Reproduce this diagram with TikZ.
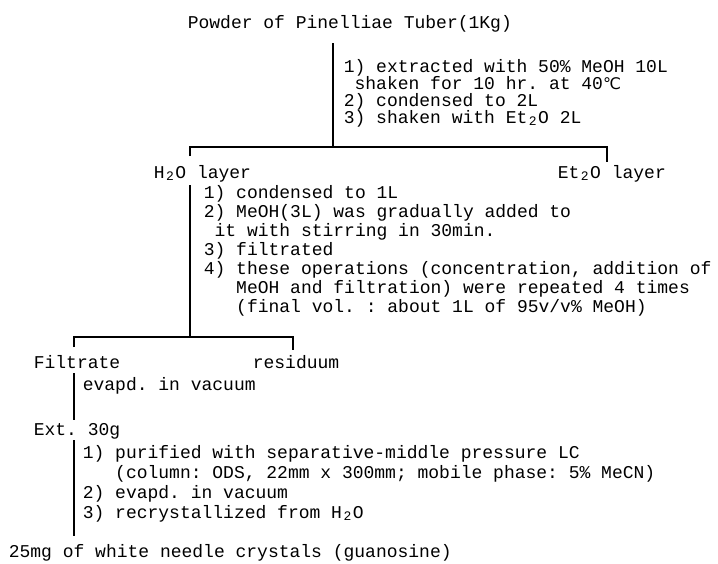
\documentclass[tikz,border=0pt]{standalone}
\usepackage{fontspec}
\setmonofont{Liberation Mono}
\newfontfamily\symfont{DejaVu Sans}
\newcommand{\lowtwo}{\makebox[0.6em]{\raisebox{-0.3ex}{\fontsize{6.5}{6.5}\selectfont 2}}}
\newcommand{\degc}{{\symfont\fontsize{8}{8}\selectfont ℃}}

\begin{document}
\begin{tikzpicture}[x=0.5pt, y=-0.5pt, line width=0.8pt,
    every node/.style={font=\ttfamily\fontsize{9}{9}\selectfont, inner sep=0pt, anchor=base west, align=left}]
    \useasboundingbox (0, 0) rectangle (718, 563);

    % draw starting material
    \node (powder) at (187, 28) {Powder of Pinelliae Tuber(1Kg)};

    % draw extraction (base = last line)
    \draw (333, 43) -- (333, 147);
    \node[font=\ttfamily\fontsize{9}{8.5}\selectfont] (extract) at (343, 123)
        {1) extracted with 50\% MeOH 10L\\
        \ shaken for 10 hr. at 40\degc\\
        2) condensed to 2L\\
        3) shaken with Et\lowtwo O 2L};
    \draw (190, 156) -- (190, 147) -- (607, 147) -- (607, 162);

    % draw layers
    \node (water) at (153, 178) {H\lowtwo O layer};
    \node (ether) at (557, 178) {Et\lowtwo O layer};

    \draw (190, 185) -- (190, 337);
    \node[font=\ttfamily\fontsize{9}{9.5}\selectfont] (conc) at (203, 312)
        {1) condensed to 1L\\
        2) MeOH(3L) was gradually added to\\
        \ it with stirring in 30min.\\
        3) filtrated\\
        4) these operations (concentration, addition of\\
        \ \ \ MeOH and filtration) were repeated 4 times\\
        \ \ \ (final vol. : about 1L of 95v/v\% MeOH)};
    \draw (74, 347) -- (74, 337) -- (293, 337) -- (293, 350);

    % draw filtrate and residue
    \node (filtrate) at (33, 368) {Filtrate};
    \node (residue) at (252, 368) {residuum};

    \draw (74, 373) -- (74, 420);
    \node (evap) at (82, 390) {evapd. in vacuum};
    \node (ext) at (33, 435) {Ext. 30g};

    \draw (74, 440) -- (74, 536);
    \node[font=\ttfamily\fontsize{9}{10}\selectfont] (purify) at (82, 518)
        {1) purified with separative-middle pressure LC\\
        \ \ \ (column: ODS, 22mm x 300mm; mobile phase: 5\% MeCN)\\
        2) evapd. in vacuum\\
        3) recrystallized from H\lowtwo O};

    % draw product
    \node (product) at (8, 557) {25mg of white needle crystals (guanosine)};
\end{tikzpicture}
\end{document}
